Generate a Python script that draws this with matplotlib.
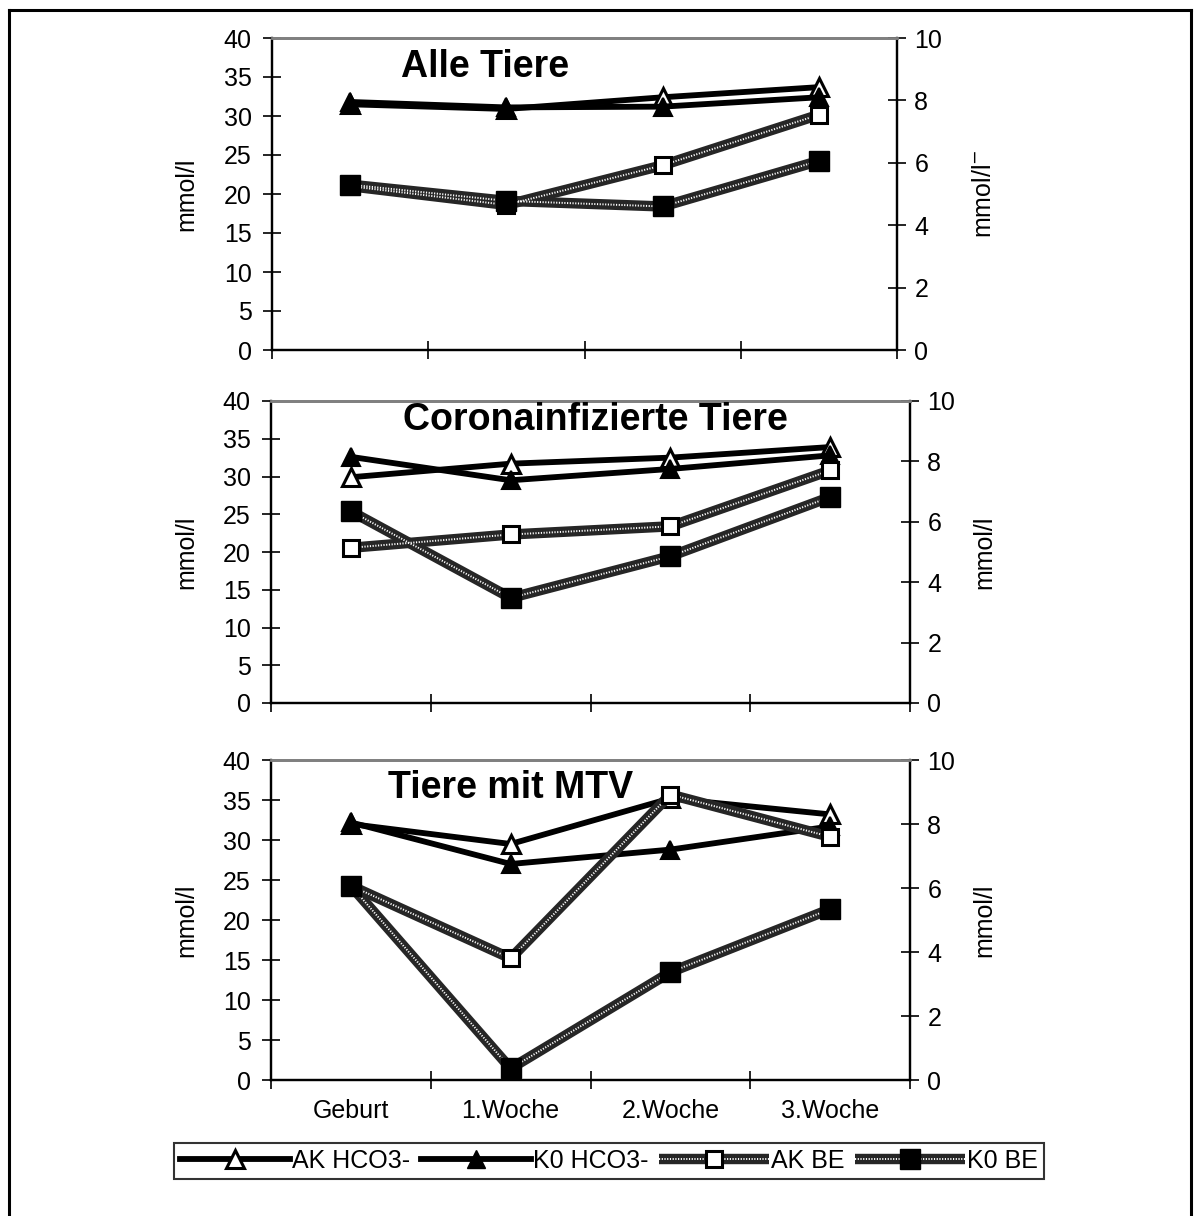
import matplotlib
matplotlib.use('Agg')
import matplotlib.pyplot as plt
from matplotlib.lines import Line2D

plt.rcParams['font.family'] = ['Liberation Sans', 'DejaVu Sans']
plt.rcParams['font.size'] = 18

# ─── data ─────────────────────────────────────────────────────────────────────
weeks = ['Geburt', '1.Woche', '2.Woche', '3.Woche']
titles = ['Alle Tiere', 'Coronainfizierte Tiere', 'Tiere mit MTV']

# HCO3- (left axis, mmol/l)
ak_hco3 = [[31.5, 30.9, 32.4, 33.7],
           [29.9, 31.7, 32.5, 33.9],
           [32.0, 29.5, 35.2, 33.2]]
k0_hco3 = [[31.8, 31.1, 31.2, 32.4],
           [32.6, 29.5, 31.0, 32.8],
           [32.2, 27.0, 28.8, 31.7]]

# BE (right axis, mmol/l)
ak_be = [[5.25, 4.65, 5.92, 7.54],
         [5.14, 5.58, 5.85, 7.70],
         [6.07, 3.80, 8.92, 7.60]]
k0_be = [[5.30, 4.78, 4.60, 6.06],
         [6.35, 3.48, 4.86, 6.82],
         [6.07, 0.36, 3.37, 5.34]]

W, H = 1200, 1216


def fx(px):
    return px / W


def fy(py):
    return 1 - py / H


# panel boxes in pixels: left, right, top, bottom
boxes = [(272, 897, 38, 350),
         (271, 910, 401, 703),
         (271, 910, 760, 1080)]
# title left edge / baseline in pixels
title_pos = [(401, 77), (403, 430), (388, 798)]

fig = plt.figure(figsize=(W / 100, H / 100), dpi=100)

# outer frame
fig.add_artist(Line2D([fx(9), fx(9)], [fy(10), 0], color='black', lw=2.2,
                      transform=fig.transFigure))
fig.add_artist(Line2D([fx(9), fx(1191)], [fy(10), fy(10)], color='black', lw=2.2,
                      transform=fig.transFigure))
fig.add_artist(Line2D([fx(1191), fx(1191)], [fy(10), 0], color='black', lw=2.2,
                      transform=fig.transFigure))

x = list(range(len(weeks)))
solid_kw = dict(color='black', lw=4.2, zorder=3)
be_base_kw = dict(color='#262626', lw=7.5, zorder=2, solid_capstyle='butt')
be_dot_kw = dict(color='white', lw=1.4, zorder=2.5, dashes=(0.6, 0.8))

for i, (l, r, t, b) in enumerate(boxes):
    ax = fig.add_axes([fx(l), fy(b), fx(r - l), (b - t) / H])
    ax2 = ax.twinx()

    ax.plot(x, ak_hco3[i], marker='^', ms=13, mfc='white', mec='black', mew=2.2, **solid_kw)
    ax.plot(x, k0_hco3[i], marker='^', ms=13, mfc='black', mec='black', mew=1.5, **solid_kw)

    ax2.plot(x, ak_be[i], **be_base_kw)
    ax2.plot(x, ak_be[i], **be_dot_kw)
    ax2.plot(x, ak_be[i], ls='none', marker='s', ms=12, mfc='white', mec='black', mew=2.2, zorder=4)
    ax2.plot(x, k0_be[i], **be_base_kw)
    ax2.plot(x, k0_be[i], **be_dot_kw)
    ax2.plot(x, k0_be[i], ls='none', marker='s', ms=14, mfc='black', mec='black', zorder=4)

    ax.set_xlim(-0.5, 3.5)
    ax.set_ylim(0, 40)
    ax2.set_ylim(0, 10)
    ax.set_yticks(range(0, 41, 5))
    ax2.set_yticks(range(0, 11, 2))

    ax.set_xticks([-0.5, 0.5, 1.5, 2.5, 3.5])
    ax.set_xticklabels([])
    ax.set_xticks(x, minor=True)
    if i == 2:
        ax.set_xticklabels(weeks, minor=True)
    ax.tick_params(axis='x', which='major', direction='inout', length=13, width=1.2)
    ax.tick_params(axis='x', which='minor', length=0, pad=14)
    ax.tick_params(axis='y', direction='inout', length=13, width=1.2, pad=8)
    ax2.tick_params(axis='y', direction='inout', length=13, width=1.2, pad=6)

    for a in (ax, ax2):
        a.patch.set_visible(False)
        for side in ('left', 'right', 'bottom'):
            a.spines[side].set_color('black')
            a.spines[side].set_linewidth(1.6)
        a.spines['top'].set_color('#808080')
        a.spines['top'].set_linewidth(2)

    ax.set_ylabel('mmol/l')
    ax.yaxis.set_label_coords((198 - l) / (r - l), 0.5)
    ax2.set_ylabel('mmol/l$^{-}$' if i == 0 else 'mmol/l', rotation=90)
    ax2.yaxis.set_label_coords((972 - l) / (r - l), 0.5)

    tx, ty = title_pos[i]
    fig.text(fx(tx), fy(ty), titles[i], fontsize=27, fontweight='bold',
             ha='left', va='baseline')

# legend
h_ak = Line2D([], [], marker='^', ms=13, mfc='white', mec='black', mew=2.2, **solid_kw)
h_k0 = Line2D([], [], marker='^', ms=13, mfc='black', mec='black', **solid_kw)
h_akbe = (Line2D([], [], **be_base_kw), Line2D([], [], **be_dot_kw),
          Line2D([], [], ls='none', marker='s', ms=12, mfc='white', mec='black', mew=2.2))
h_k0be = (Line2D([], [], **be_base_kw), Line2D([], [], **be_dot_kw),
          Line2D([], [], ls='none', marker='s', ms=14, mfc='black', mec='black'))
leg = fig.legend([h_ak, h_k0, h_akbe, h_k0be],
                 ['AK HCO3-', 'K0 HCO3-', 'AK BE', 'K0 BE'],
                 loc='center', bbox_to_anchor=(fx(609), fy(1161)), ncol=4,
                 handlelength=4.4, handletextpad=0.1, columnspacing=0.4,
                 borderpad=0.25, borderaxespad=0, fancybox=False, fontsize=18)
leg.get_frame().set_edgecolor('black')
leg.get_frame().set_linewidth(1.5)

fig.savefig('out.png', dpi=100)
